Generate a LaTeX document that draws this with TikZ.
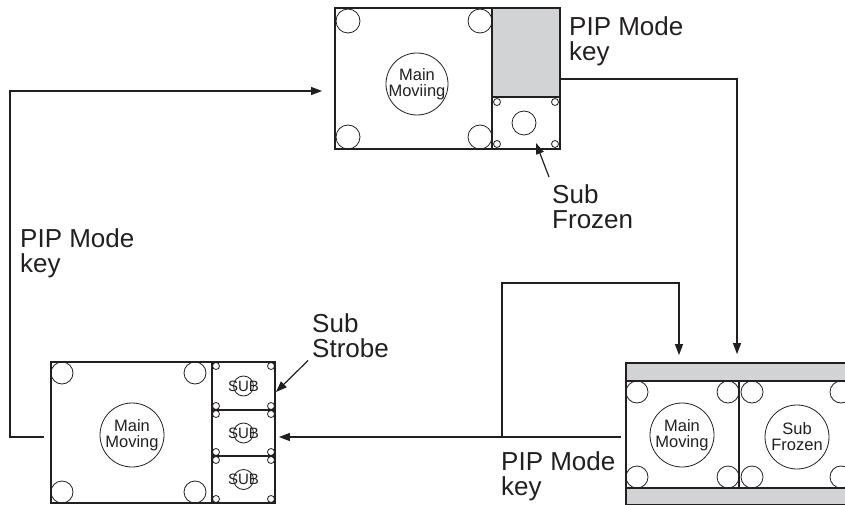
\documentclass[tikz,border=0pt]{standalone}
\usepackage{fontspec}
\setmainfont{Liberation Sans}
\usetikzlibrary{arrows.meta,positioning}
\definecolor{panelgray}{RGB}{209,211,212}
\definecolor{ink}{RGB}{35,31,32}

\begin{document}
\begin{tikzpicture}[x=1pt,y=-1pt,
  screen/.style={draw=ink, line width=1.8pt, minimum width=#1, minimum height=141pt, inner sep=0pt},
  divider/.style={draw=ink, line width=1.8pt},
  ring/.style={draw=ink, line width=0.8pt},
  link/.style={draw=ink, line width=1.2pt, -{Triangle[length=11pt,width=8pt]}},
  keytext/.style={anchor=north west, inner sep=0pt, align=left, font=\fontsize{26}{25}\selectfont, text=ink},
  picttext/.style={inner sep=0pt, align=center, font=\fontsize{16.5}{16}\selectfont, text=ink}]
\useasboundingbox (0,0) rectangle (845,505);
\clip (0,0) rectangle (845,505);

\fill[panelgray] (492,8) rectangle (560,97);
\node[screen=225pt] (pipA) at (447.5,78.5) {};
\draw[divider] (492,8) -- (492,149) (492,97) -- (560,97);
\foreach \x/\y in {348/21,480/21,348/137,480/137} \draw[ring] (\x,\y) circle (12pt);
\foreach \x/\y in {497/102,555/102,497/144,555/144} \draw[ring] (\x,\y) circle (3.5pt);
\draw[ring] (524,123) circle (12pt);
\node[ring, circle, minimum size=62pt, inner sep=0pt] (mainA) at (417,84) {};
\node[picttext] at (mainA) {Main\\Moviing};

\node[screen=224pt] (pipB) at (163,432.5) {};
\draw[divider] (212,362) -- (212,503) (212,410) -- (275,410) (212,456) -- (275,456);
\foreach \x/\y in {62/373,195/373,62/492,195/492} \draw[ring] (\x,\y) circle (11pt);
\foreach \t/\b [count=\i] in {362/410,410/456,456/503} {
  \foreach \x in {216,271} {
    \draw[ring] (\x,\t+4) circle (3.5pt);
    \draw[ring] (\x,\b-4) circle (3.5pt);
  }
  \node[ring, circle, minimum size=20pt, inner sep=0pt] (sub\i) at (243.5,{(\t+\b)/2}) {};
  \node[picttext, font=\fontsize{15}{15}\selectfont] at (sub\i) {SUB};
}
\node[ring, circle, minimum size=64pt, inner sep=0pt] (mainB) at (132,435) {};
\node[picttext] at (mainB) {Main\\Moving};

\fill[panelgray] (626,363) rectangle (852,381) (626,488) rectangle (852,505);
\node[screen=226pt, minimum height=142pt] (pipC) at (739,434) {};
\draw[divider] (626,381) -- (852,381) (626,488) -- (852,488) (739,381) -- (739,488);
\foreach \x in {637,728,752,841} \foreach \y in {392,477} \draw[ring] (\x,\y) circle (11pt);
\node[ring, circle, minimum size=64pt, inner sep=0pt] (mainC) at (682,435) {};
\node[picttext] at (mainC) {Main\\Moving};
\node[ring, circle, minimum size=64pt, inner sep=0pt] (subC) at (797,437) {};
\node[picttext] at (subC) {Sub\\Frozen};

\node[keytext] (keyL) at (20,228) {PIP Mode\\key};
\node[keytext] (keyR) at (569,16) {PIP Mode\\key};
\node[keytext] (keyB) at (501,451) {PIP Mode\\key};
\node[keytext] (strobeLbl) at (312,313) {Sub\\Strobe};
\node[keytext] (frozenLbl) at (552,184) {Sub\\Frozen};

\coordinate (loopL) at (10,91);
\coordinate (loopT) at (502,283);
\coordinate (dropC) at (679,283);
\coordinate (bendR) at (737,79);
\coordinate (midB) at (502,437);
\coordinate (strobeTip) at (276,392);
\coordinate (frozenTip) at (536,143);

\draw[link] ([xshift=-6pt]pipB.west |- midB) -| (loopL) -- ([xshift=-12pt]pipA.west |- loopL);
\draw[link] (pipA.east |- bendR) -- (bendR) -- ([yshift=8pt]bendR |- pipC.north);
\draw[link] ([xshift=-4pt]pipC.west |- midB) -- ([xshift=3pt]pipB.east |- midB);
\draw[link] (midB) -- (loopT) -- (dropC) -- ([yshift=7pt]dropC |- pipC.north);
\draw[link] ([shift={(-4pt,-3pt)}]strobeLbl.south west) -- (strobeTip);
\draw[link] ([shift={(-3pt,7pt)}]frozenLbl.north west) -- (frozenTip);
\end{tikzpicture}
\end{document}
